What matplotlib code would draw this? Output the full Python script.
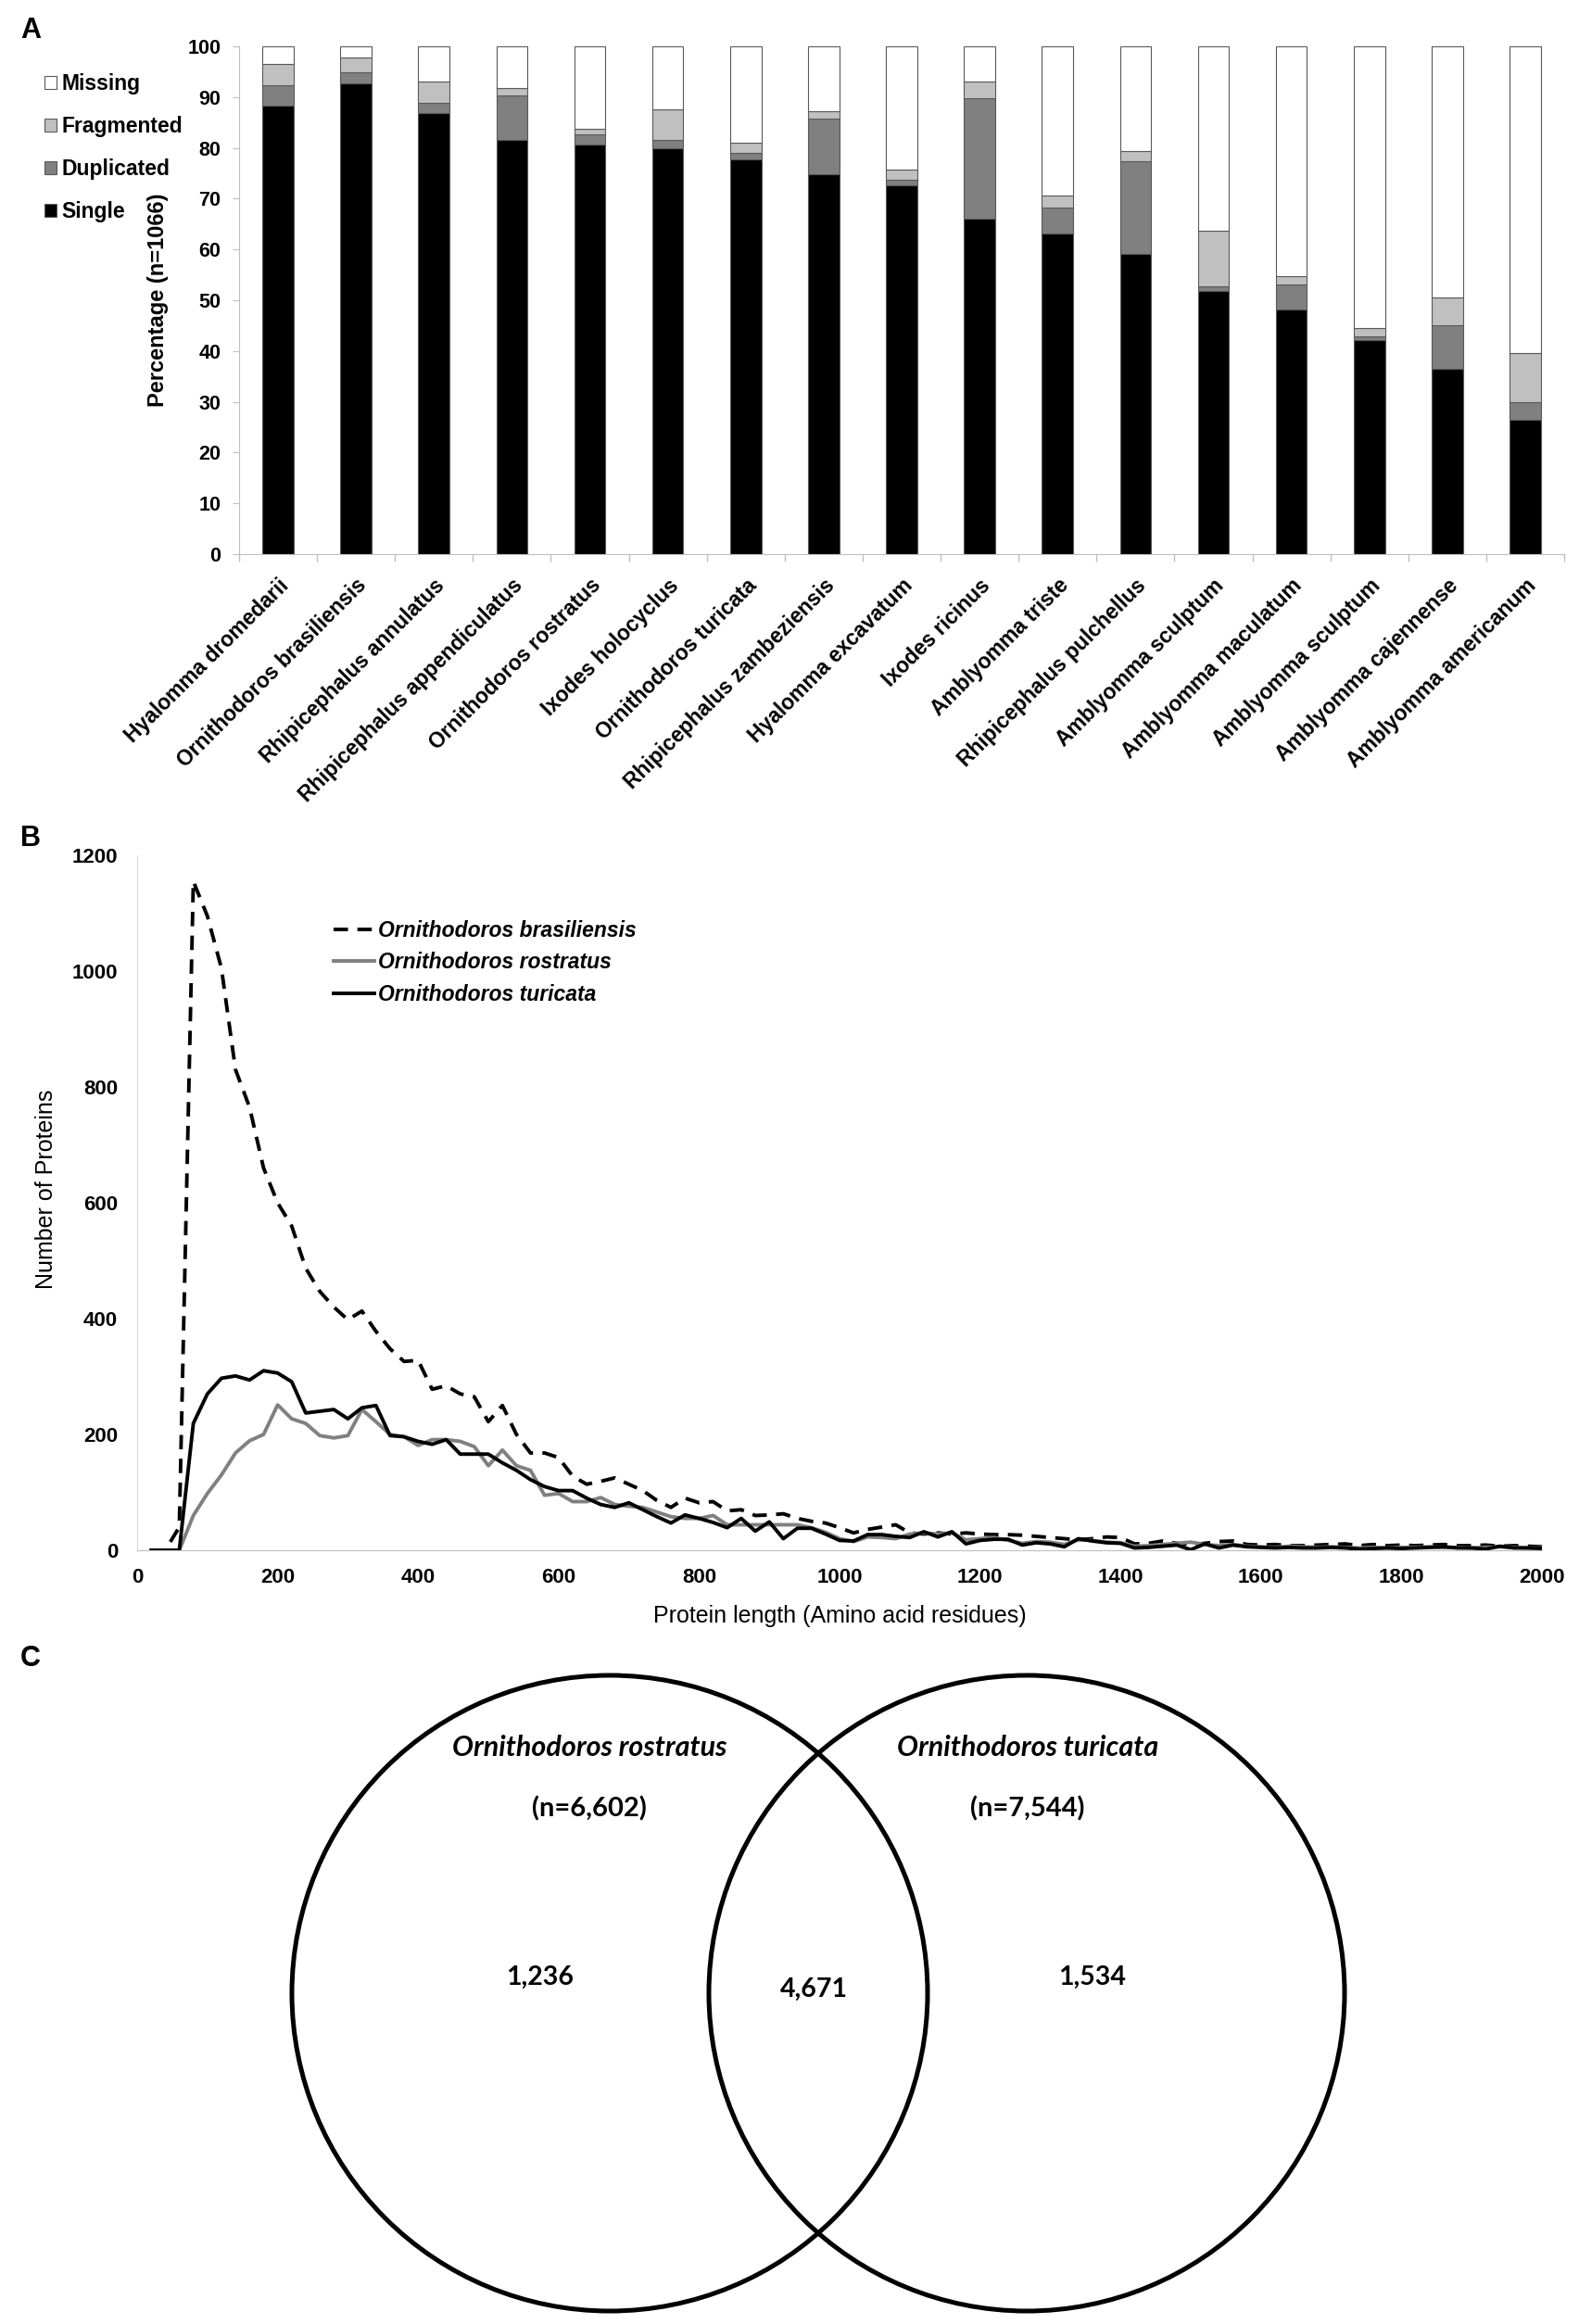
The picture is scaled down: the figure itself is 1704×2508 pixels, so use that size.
import numpy as np
import matplotlib
matplotlib.use("Agg")
import matplotlib.pyplot as plt
from matplotlib.patches import Circle

W, H = 1704, 2508

###################################
# Panel A : BUSCO completeness (percent of 1066 genes)
###################################
species = ["Hyalomma dromedarii", "Ornithodoros brasiliensis", "Rhipicephalus annulatus",
           "Rhipicephalus appendiculatus", "Ornithodoros rostratus", "Ixodes holocyclus",
           "Ornithodoros turicata", "Rhipicephalus zambeziensis", "Hyalomma excavatum",
           "Ixodes ricinus", "Amblyomma triste", "Rhipicephalus pulchellus",
           "Amblyomma sculptum", "Amblyomma maculatum", "Amblyomma sculptum",
           "Amblyomma cajennense", "Amblyomma americanum"]
single = [88.4, 92.7, 86.9, 81.6, 80.6, 80.0, 77.7, 74.9, 72.7, 66.1, 63.1, 59.1,
          51.8, 48.1, 42.1, 36.5, 26.4]
duplicated = [4.0, 2.2, 2.0, 8.7, 2.0, 1.6, 1.3, 10.8, 1.1, 23.7, 5.1, 18.3,
              1.0, 5.0, 0.7, 8.5, 3.5]
fragmented = [4.1, 2.9, 4.2, 1.5, 1.1, 6.0, 2.1, 1.6, 1.9, 3.3, 2.5, 1.9,
              10.8, 1.7, 1.7, 5.5, 9.7]
missing = [3.5, 2.2, 6.9, 8.2, 16.3, 12.4, 18.9, 12.7, 24.3, 6.9, 29.3, 20.7,
           36.4, 45.2, 55.5, 49.5, 60.4]

###################################
# Panel B : protein length distribution (bins of 20 aa)
###################################
protein_len = list(range(20, 2001, 20))
o_brasiliensis = [0, 0, 40, 1155, 1095, 1005, 830, 765, 660, 600,
                  560, 487, 447, 420, 398, 413, 378, 348, 326, 328,
                  278, 284, 270, 265, 222, 250, 200, 168, 168, 160,
                  128, 114, 119, 125, 114, 103, 86, 74, 90, 82,
                  84, 68, 70, 60, 61, 63, 55, 50, 47, 39,
                  30, 36, 40, 44, 30, 28, 30, 28, 30, 28,
                  27, 27, 26, 24, 22, 20, 18, 20, 23, 22,
                  11, 12, 16, 12, 10, 12, 15, 16, 10, 9,
                  10, 8, 8, 9, 10, 11, 8, 10, 8, 9,
                  8, 9, 10, 8, 8, 9, 7, 8, 7, 6]
o_rostratus = [0, 0, 0, 60, 98, 130, 168, 189, 200, 251,
               227, 219, 198, 194, 198, 243, 222, 200, 196, 181,
               191, 191, 188, 179, 146, 173, 146, 138, 95, 98,
               84, 84, 91, 79, 76, 74, 66, 58, 55, 55,
               60, 44, 44, 44, 44, 44, 44, 39, 31, 20,
               15, 23, 22, 20, 28, 30, 28, 30, 18, 20,
               22, 17, 12, 15, 14, 10, 18, 17, 14, 13,
               7, 8, 10, 12, 14, 10, 8, 10, 7, 6,
               5, 7, 6, 5, 6, 5, 4, 5, 4, 5,
               5, 6, 5, 5, 4, 5, 6, 5, 4, 4]
o_turicata = [0, 0, 0, 219, 270, 297, 301, 294, 310, 306,
              291, 237, 240, 243, 227, 246, 250, 198, 196, 188,
              183, 191, 166, 166, 166, 151, 138, 122, 110, 103,
              103, 90, 79, 74, 82, 70, 58, 47, 61, 55,
              48, 39, 55, 33, 49, 20, 38, 38, 28, 17,
              16, 27, 27, 24, 22, 32, 23, 32, 11, 17,
              19, 19, 9, 13, 11, 6, 20, 16, 13, 12,
              4, 5, 7, 9, 1, 11, 4, 9, 6, 5,
              4, 5, 4, 4, 5, 4, 2, 3, 4, 3,
              4, 5, 6, 4, 4, 2, 7, 4, 4, 3]

###################################
# Panel C : shared proteins
###################################
venn_names = ["Ornithodoros rostratus", "Ornithodoros turicata"]
venn_totals = [6602, 7544]
venn_unique = [1236, 1534]
venn_shared = 4671

plt.rcParams["font.family"] = "Liberation Sans"


def box(l, t, r, b):
    # pixel box -> figure fraction
    return [l / W, 1 - b / H, (r - l) / W, (b - t) / H]


fig = plt.figure(figsize=(W / 100, H / 100), dpi=100)

# ---------------- A ----------------
axA = fig.add_axes(box(258, 50, 1688, 598))
x = np.arange(len(species))
bottom = np.zeros(len(species))
for vals, col, name in zip([single, duplicated, fragmented, missing],
                           ["black", "#808080", "#c0c0c0", "white"],
                           ["Single", "Duplicated", "Fragmented", "Missing"]):
    axA.bar(x, vals, 0.4, bottom=bottom, color=col, edgecolor="#595959",
            linewidth=0.8, label=name)
    bottom += np.array(vals)

axA.set_xlim(-0.5, len(species) - 0.5)
axA.set_ylim(0, 100)
axA.set_yticks(range(0, 101, 10))
axA.tick_params(axis="y", length=5, color="#bfbfbf", pad=9, labelsize=15.5)
for t in axA.get_yticklabels():
    t.set_fontweight("bold")
axA.set_xticks(x)
axA.set_xticklabels(species, rotation=45, ha="right", rotation_mode="anchor",
                    fontsize=16.5, fontweight="bold")
axA.tick_params(axis="x", which="major", length=0, pad=16)
axA.set_xticks(np.arange(-0.5, len(species), 1), minor=True)
axA.tick_params(axis="x", which="minor", length=6, color="#bfbfbf", width=1)
for s in ["top", "right"]:
    axA.spines[s].set_visible(False)
for s in ["left", "bottom"]:
    axA.spines[s].set_color("#bfbfbf")
axA.set_ylabel("Percentage (n=1066)", fontsize=17, fontweight="bold")
axA.yaxis.set_label_coords(-0.053, 0.5)

hA, lA = axA.get_legend_handles_labels()
fig.legend(hA[::-1], lA[::-1], loc="upper left", bbox_to_anchor=(48 / W, 1 - 79 / H),
           frameon=False, prop={"size": 16.5, "weight": "bold"}, handlelength=0.55,
           handleheight=0.55, handletextpad=0.25, labelspacing=1.0,
           borderpad=0, borderaxespad=0)

# ---------------- B ----------------
axB = fig.add_axes(box(148, 923, 1664, 1673))
axB.plot(protein_len, o_brasiliensis, color="black", lw=2.8, dashes=(4, 2.6),
         label="Ornithodoros brasiliensis")
axB.plot(protein_len, o_rostratus, color="#808080", lw=2.8, label="Ornithodoros rostratus")
axB.plot(protein_len, o_turicata, color="black", lw=2.8, label="Ornithodoros turicata")
axB.set_xlim(0, 2000)
axB.set_ylim(0, 1200)
axB.set_xticks(range(0, 2001, 200))
axB.set_yticks(range(0, 1201, 200))
axB.tick_params(axis="both", length=0, labelsize=16)
axB.tick_params(axis="x", pad=14)
axB.tick_params(axis="y", pad=15)
for t in axB.get_xticklabels() + axB.get_yticklabels():
    t.set_fontweight("bold")
for s in ["top", "right"]:
    axB.spines[s].set_visible(False)
axB.spines["left"].set_color("#d9d9d9")
axB.spines["bottom"].set_color("#bfbfbf")
axB.set_xlabel("Protein length (Amino acid residues)", fontsize=18)
axB.set_ylabel("Number of Proteins", fontsize=18)
axB.xaxis.set_label_coords(0.5, -0.079)
axB.yaxis.set_label_coords(-0.057, 0.52)
axB.legend(loc="upper left", bbox_to_anchor=(360 / W, 1 - 993 / H),
           bbox_transform=fig.transFigure, frameon=False,
           prop={"size": 16.5, "weight": "bold", "style": "italic"},
           handlelength=1.9, handletextpad=0.2, labelspacing=0.5,
           borderpad=0, borderaxespad=0)

# ---------------- C ----------------
axC = fig.add_axes(box(0, 1708, W, H))
axC.set_xlim(0, W)
axC.set_ylim(H, 1708)
axC.axis("off")
centers = [(658, 2151), (1108, 2151)]
radius = 343
for cx, cy in centers:
    axC.add_patch(Circle((cx, cy), radius, fill=False, lw=3.6, ec="black"))

name_x = [636, 1109]
for i in range(2):
    axC.text(name_x[i], 1886, venn_names[i], ha="center", va="center", fontsize=22,
             family="Lato", weight="bold", style="italic")
    axC.text(name_x[i], 1952, "(n={:,})".format(venn_totals[i]), ha="center",
             va="center", fontsize=21, family="Lato", weight="bold")
axC.text(583, 2134, "{:,}".format(venn_unique[0]), ha="center", va="center",
         fontsize=20.5, family="Lato", weight="bold")
axC.text(1179, 2134, "{:,}".format(venn_unique[1]), ha="center", va="center",
         fontsize=20.5, family="Lato", weight="bold")
axC.text(878, 2147, "{:,}".format(venn_shared), ha="center", va="center",
         fontsize=20.5, family="Lato", weight="bold")

# panel letters
fig.text(22 / W, 1 - 18 / H, "A", fontsize=22, fontweight="bold", va="top")
fig.text(22 / W, 1 - 890 / H, "B", fontsize=22, fontweight="bold", va="top")
fig.text(22 / W, 1 - 1775 / H, "C", fontsize=22, fontweight="bold", va="top")

fig.savefig("out.png", dpi=100)
